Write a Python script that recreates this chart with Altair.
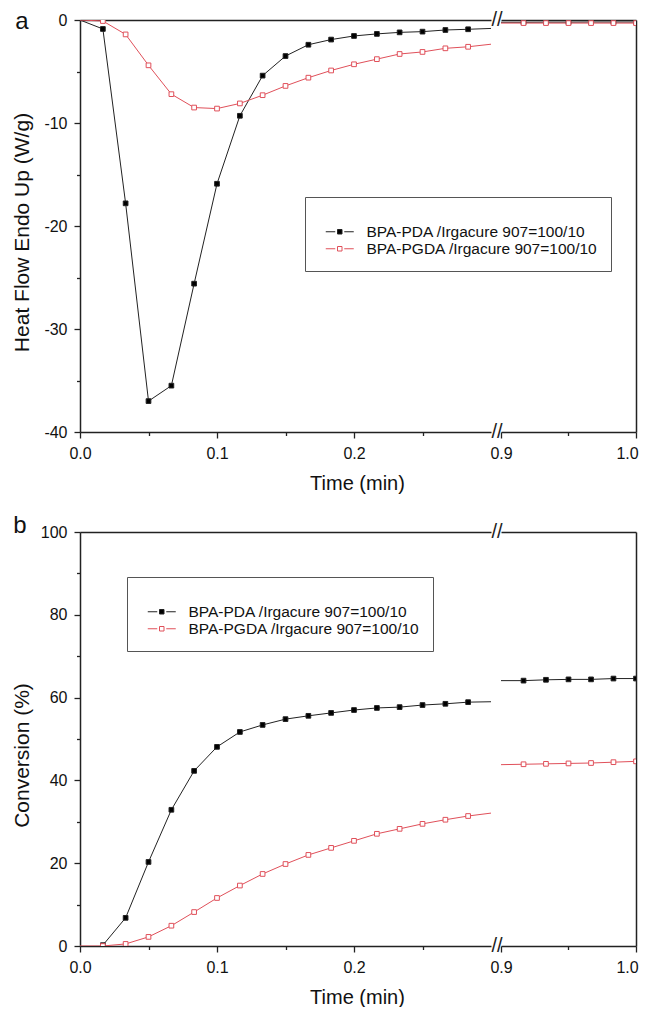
import altair as alt
import pandas as pd

FONT = "Liberation Sans"
SERIES = ["BPA-PDA /Irgacure 907=100/10", "BPA-PGDA /Irgacure 907=100/10"]
LINE_COLORS = ["#222222", "#e0505a"]
FILL_COLORS = ["#000000", "#ffffff"]

# time grid (min)
T_LEFT = [0.0, 0.0167, 0.0333, 0.05, 0.0667, 0.0833, 0.1, 0.1167, 0.1333, 0.15,
          0.1667, 0.1833, 0.2, 0.2167, 0.2333, 0.25, 0.2667, 0.2833, 0.3]
T_RIGHT = [0.9, 0.9167, 0.9333, 0.95, 0.9667, 0.9833, 1.0]

# (a) heat flow (W/g)
HF_PDA_L = [0, -0.87, -17.8, -37.0, -35.5, -25.6, -15.9, -9.3, -5.4, -3.5,
            -2.4, -1.9, -1.55, -1.35, -1.2, -1.13, -0.97, -0.9, -0.82]
HF_PGDA_L = [0, -0.1, -1.4, -4.4, -7.2, -8.5, -8.6, -8.1, -7.3, -6.4,
             -5.6, -4.9, -4.3, -3.8, -3.3, -3.1, -2.75, -2.6, -2.35]
HF_PDA_R = [-0.22, -0.22, -0.21, -0.21, -0.2, -0.2, -0.2]
HF_PGDA_R = [-0.3, -0.3, -0.3, -0.3, -0.3, -0.3, -0.3]

# (b) conversion (%)
CV_PDA_L = [None, 0.2, 6.8, 20.3, 32.9, 42.3, 48.1, 51.7, 53.4, 54.8,
            55.6, 56.3, 57.0, 57.5, 57.7, 58.2, 58.5, 58.9, 59.0]
CV_PGDA_L = [0, 0, 0.5, 2.2, 4.9, 8.2, 11.6, 14.6, 17.4, 19.8,
             22.0, 23.7, 25.4, 27.1, 28.3, 29.5, 30.5, 31.4, 32.1]
CV_PDA_R = [64.1, 64.1, 64.3, 64.4, 64.4, 64.6, 64.6]
CV_PGDA_R = [43.8, 43.9, 44.0, 44.1, 44.2, 44.4, 44.6]

X_MAJOR_L = [0.0, 0.1, 0.2]
X_MINOR_L = [0.05, 0.15, 0.25]
X_MAJOR_R = [0.9, 1.0]
X_MINOR_R = [0.95]

Y_MAJOR_A = [-40, -30, -20, -10, 0]
Y_MINOR_A = [-35, -25, -15, -5]
Y_MAJOR_B = [0, 20, 40, 60, 80, 100]
Y_MINOR_B = [10, 30, 50, 70, 90]

LEG_PATH = "M0,0L1.9,0M3.7,0L5.6,0M2.35,-0.45L3.25,-0.45L3.25,0.45L2.35,0.45Z"
LEG_FILL = f"datum.value == '{SERIES[1]}' ? '#ffffff' : '#000000'"
YLABEL = "datum.value < 0 ? '-' + abs(datum.value) : '' + datum.value"


def long_df(t, a, b):
    rows = []
    for name, vals in zip(SERIES, [a, b]):
        for ti, vi in zip(t, vals):
            rows.append({"t": ti, "v": vi, "series": name})
    return pd.DataFrame(rows)


stroke_scale = alt.Scale(domain=SERIES, range=LINE_COLORS)
fill_scale = alt.Scale(domain=SERIES, range=FILL_COLORS)


def panel(tl, al, bl, tr, ar, br, ydom, ymaj, ymin, ytitle, ytitle_y,
          height, leg_x, leg_y, letter, letter_x, letter_y):
    df_l = long_df(tl, al, bl)
    df_r = long_df(tr, ar, br)
    ysc = alt.Scale(domain=ydom, nice=False, zero=False)
    legend = alt.Legend(orient="none", legendX=leg_x, legendY=leg_y, title=" ",
                        titleFontSize=14, titlePadding=0,
                        symbolType=LEG_PATH, symbolSize=100, symbolStrokeWidth=1,
                        symbolFillColor={"expr": LEG_FILL},
                        labelFont=FONT, labelFontSize=15.5, labelColor="#111",
                        labelLimit=400, labelOffset=33, padding=13, rowPadding=0,
                        strokeColor="#555", fillColor="white")

    def unit(df, xdom, xmaj, xmin, side, show_legend):
        xsc = alt.Scale(domain=xdom, nice=False, zero=False)
        base = alt.Chart(df)
        if side == "left":
            xaxis = alt.Axis(orient="bottom", values=xmaj, tickSize=6, format=".1f",
                             title="Time (min)", titleX=277, titleY=51,
                             titleBaseline="middle")
            yaxis = alt.Axis(orient="left", values=ymaj, tickSize=6, labelExpr=YLABEL,
                             title=ytitle, titleX=-58, titleY=ytitle_y,
                             titleBaseline="middle", titleAngle=270, titleFontSize=21)
            yminor = alt.Axis(orient="left", values=ymin, tickSize=3.5, labels=False,
                              domain=False, title=None)
            yborder = None
        else:
            xaxis = alt.Axis(orient="bottom", values=xmaj, tickSize=6, format=".1f",
                             title=None,
                             labelOffset={"condition": {"test": "datum.value == 1",
                                                        "value": -9}, "value": 0})
            yaxis = None
            yminor = None
            yborder = alt.Axis(orient="right", labels=False, ticks=False, title=None)
        xminor = alt.Axis(orient="bottom", values=xmin, tickSize=3.5, labels=False,
                          domain=False, title=None)
        xborder = alt.Axis(orient="top", labels=False, ticks=False, title=None)

        line = base.mark_line(strokeWidth=1, clip=True).encode(
            x=alt.X("t:Q", scale=xsc, axis=xaxis),
            y=alt.Y("v:Q", scale=ysc, axis=yaxis),
            stroke=alt.Stroke("series:N", scale=stroke_scale,
                              legend=legend if show_legend else None),
        )
        filt = "datum.t > 0.001 && datum.t < 0.29" if side == "left" else "datum.t > 0.91"
        pts = base.mark_point(shape="square", size=22, strokeWidth=1, opacity=1,
                              clip=True).encode(
            x=alt.X("t:Q", scale=xsc, axis=None),
            y=alt.Y("v:Q", scale=ysc, axis=None),
            stroke=alt.Stroke("series:N", scale=stroke_scale, legend=None),
            fill=alt.Fill("series:N", scale=fill_scale, legend=None),
        ).transform_filter(filt)
        minor = base.mark_line(strokeOpacity=0).encode(
            x=alt.X("t:Q", scale=xsc, axis=xminor),
            y=alt.Y("v:Q", scale=ysc, axis=yminor),
        )
        border = base.mark_line(strokeOpacity=0).encode(
            x=alt.X("t:Q", scale=xsc, axis=xborder),
            y=alt.Y("v:Q", scale=ysc, axis=yborder),
        )
        layers = [line, pts, minor, border]
        if side == "left":
            brk = pd.DataFrame({"t": [xdom[1], xdom[1]], "v": [ydom[0], ydom[1]]})
            breaks = alt.Chart(brk).mark_text(text="//", fontSize=20, dx=6, font=FONT,
                                              baseline="middle", align="center",
                                              color="#222").encode(
                x=alt.X("t:Q", scale=xsc, axis=None),
                y=alt.Y("v:Q", scale=ysc, axis=None),
            )
            lab = alt.Chart(pd.DataFrame({"label": [letter]})).mark_text(
                fontSize=24, font=FONT, baseline="middle", align="center", color="#111"
            ).encode(text="label:N", x=alt.value(letter_x), y=alt.value(letter_y))
            layers += [breaks, lab]
        ch = alt.layer(*layers).resolve_axis(x="independent", y="independent")
        return ch.properties(width=411 if side == "left" else 135, height=height)

    left = unit(df_l, [0, 0.3], X_MAJOR_L, X_MINOR_L, "left", True)
    right = unit(df_r, [0.9, 1.0], X_MAJOR_R, X_MINOR_R, "right", False)
    return alt.hconcat(left, right, spacing=10, bounds="flush")


row_a = panel(T_LEFT, HF_PDA_L, HF_PGDA_L, T_RIGHT, HF_PDA_R, HF_PGDA_R,
              [-40, 0], Y_MAJOR_A, Y_MINOR_A, "Heat Flow Endo Up (W/g)", 212,
              412, 225, 177, "a", -58, 2)
row_b = panel(T_LEFT, CV_PDA_L, CV_PGDA_L, T_RIGHT, CV_PDA_R, CV_PGDA_R,
              [0, 100], Y_MAJOR_B, Y_MINOR_B, "Conversion (%)", 223,
              414, 47, 45, "b", -60, -6)

chart = alt.vconcat(row_a, row_b, spacing=21).resolve_legend(
    stroke="independent"
).properties(
    padding={"left": 3, "top": 2, "right": 0, "bottom": 0}
).configure_view(stroke=None).configure_axis(
    domainColor="#222", domainWidth=1.5, tickColor="#222", tickWidth=1.3,
    labelFont=FONT, labelFontSize=16, labelColor="#111", labelPadding=7,
    titleFont=FONT, titleFontSize=20, titleColor="#111", titleFontWeight="normal",
    grid=False, labelFlush=False, labelOverlap=False,
)

chart.save("out.html", embed_options={"renderer": "svg", "actions": False})
